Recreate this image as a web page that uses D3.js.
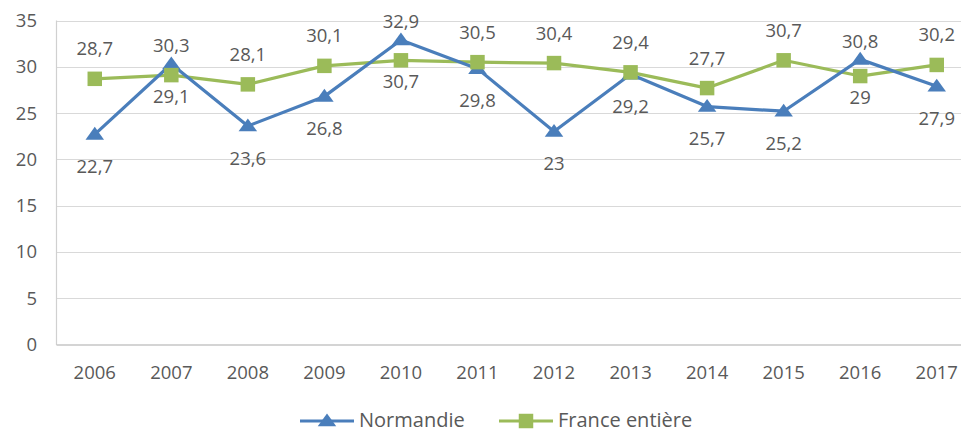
<!DOCTYPE html>
<html><head><meta charset="utf-8">
<script src="https://cdn.jsdelivr.net/npm/d3@7"></script>
<style>body{margin:0;background:#fff}svg{display:block}text{font-family:"Open Sans",sans-serif;fill:#595959}</style>
</head><body><svg id="c" width="961" height="432"></svg>
<script>
const years = ["2006","2007","2008","2009","2010","2011","2012","2013","2014","2015","2016","2017"];
const normandie = [22.7,30.3,23.6,26.8,32.9,29.8,23,29.2,25.7,25.2,30.8,27.9];
const france = [28.7,29.1,28.1,30.1,30.7,30.5,30.4,29.4,27.7,30.7,29,30.2];
const normandieLabelPos = ["below","above","below","below","above","below","below","below","below","below","above","below"];
const franceLabelPos = ["above","below","above","above","below","above","above","above","above","above","below","above"];
const yTicks = [0,5,10,15,20,25,30,35];
const seriesNames = ["Normandie","France entière"];

const svg = d3.select("#c");
const fs = 18.5;
const x = d3.scaleBand().domain(years).range([56.5, 975]);
const y = d3.scaleLinear().domain([0,35]).range([344.5, 20.5]);
const cx = d => x(d) + x.bandwidth()/2;

// gridlines
svg.append("g").selectAll("line").data(yTicks.filter(t=>t>0)).join("line")
  .attr("x1",56.5).attr("x2",975).attr("y1",d=>Math.round(y(d))+0.5).attr("y2",d=>Math.round(y(d))+0.5)
  .attr("stroke","#d9d9d9").attr("stroke-width",1.2);
// axes lines
svg.append("line").attr("x1",56.5).attr("x2",56.5).attr("y1",y(35)).attr("y2",y(0)+0.5).attr("stroke","#d0d0d0").attr("stroke-width",1.2);
svg.append("line").attr("x1",56.5).attr("x2",975).attr("y1",y(0)+0.5).attr("y2",y(0)+0.5).attr("stroke","#c6c6c6").attr("stroke-width",1.5);

// y tick labels
svg.append("g").selectAll("text").data(yTicks).join("text")
  .attr("x",37).attr("y",d=>y(d)).attr("dy","0.35em").attr("text-anchor","end")
  .attr("font-size",fs).text(d=>d);
// x tick labels
svg.append("g").selectAll("text").data(years).join("text")
  .attr("x",d=>cx(d)).attr("y",373).attr("dy","0.35em").attr("text-anchor","middle")
  .attr("font-size",fs).text(d=>d);

const blue = "#4a7ebb", green = "#9bbb59";
const line = d3.line().x((d,i)=>cx(years[i])).y(d=>y(d));
const tri = d3.symbol().type(d3.symbolTriangle).size(95);
const sq = d3.symbol().type(d3.symbolSquare).size(210);

// France series
svg.append("path").datum(france).attr("d",line).attr("fill","none").attr("stroke",green).attr("stroke-width",3.2).attr("stroke-linejoin","round");
// Normandie series
svg.append("path").datum(normandie).attr("d",line).attr("fill","none").attr("stroke",blue).attr("stroke-width",3.2).attr("stroke-linejoin","round");

svg.append("g").selectAll("path").data(normandie).join("path")
  .attr("d",tri).attr("fill",blue)
  .attr("transform",(d,i)=>`translate(${cx(years[i])},${y(d)+1}) scale(1.25,1)`);
svg.append("g").selectAll("path").data(france).join("path")
  .attr("d",sq).attr("fill",green)
  .attr("transform",(d,i)=>`translate(${cx(years[i])},${y(d)})`);

const fmt = v => String(v).replace(".",",");
svg.append("g").selectAll("text").data(normandie).join("text")
  .attr("x",(d,i)=>cx(years[i])).attr("y",(d,i)=>y(d)+(normandieLabelPos[i]==="above"?-18:32))
  .attr("dy","0.35em").attr("text-anchor","middle").attr("font-size",fs).text(fmt);
svg.append("g").selectAll("text").data(france).join("text")
  .attr("x",(d,i)=>cx(years[i])).attr("y",(d,i)=>y(d)+(franceLabelPos[i]==="above"?-30:21))
  .attr("dy","0.35em").attr("text-anchor","middle").attr("font-size",fs).text(fmt);

// legend
const lg = svg.append("g");
const ly = 421;
const legendItems = [{name:seriesNames[0],color:blue,sym:"tri",x:300,tx:359},{name:seriesNames[1],color:green,sym:"sq",x:499,tx:558}];
legendItems.forEach(it=>{
  lg.append("line").attr("x1",it.x).attr("x2",it.x+54).attr("y1",ly).attr("y2",ly).attr("stroke",it.color).attr("stroke-width",3.2);
  lg.append("path").attr("d",it.sym==="tri"?tri:sq).attr("fill",it.color)
    .attr("transform",`translate(${it.x+27},${it.sym==="tri"?ly+1:ly}) ${it.sym==="tri"?"scale(1.25,1)":""}`);
  lg.append("text").attr("x",it.tx).attr("y",ly+5.5).attr("font-size",20).text(it.name);
});
</script></body></html>
